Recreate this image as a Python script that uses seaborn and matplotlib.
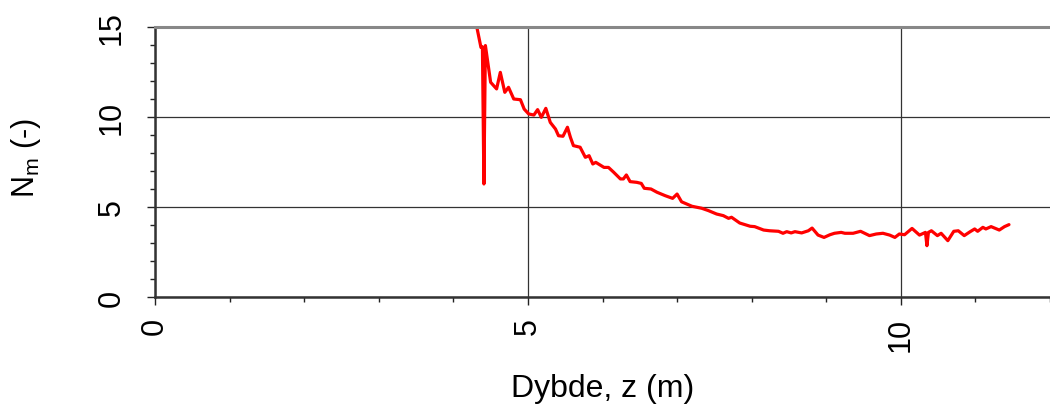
import matplotlib
matplotlib.use("Agg")
import matplotlib.pyplot as plt
from matplotlib.ticker import MultipleLocator
import seaborn as sns
import pandas as pd

depth = [4.30, 4.37, 4.39, 4.41, 4.43, 4.50, 4.58, 4.63, 4.69, 4.74, 4.81, 4.90,
         4.95, 5.01, 5.08, 5.13, 5.18, 5.24, 5.30, 5.37, 5.41, 5.47, 5.53, 5.57,
         5.61, 5.70, 5.77, 5.82, 5.87, 5.91, 6.02, 6.08, 6.15, 6.24, 6.28, 6.32,
         6.37, 6.46, 6.52, 6.56, 6.65, 6.73, 6.84, 6.94, 7.00, 7.06, 7.20, 7.33,
         7.42, 7.53, 7.62, 7.69, 7.73, 7.84, 7.98, 8.04, 8.16, 8.24, 8.36, 8.42,
         8.47, 8.53, 8.58, 8.67, 8.76, 8.81, 8.89, 8.97, 9.05, 9.11, 9.20, 9.25,
         9.36, 9.46, 9.58, 9.67, 9.76, 9.85, 9.92, 9.98, 10.05, 10.15, 10.25, 10.33,
         10.35, 10.37, 10.41, 10.49, 10.54, 10.63, 10.71, 10.77, 10.85, 10.93, 10.99,
         11.03, 11.10, 11.14, 11.21, 11.32, 11.39, 11.45]
nm = [15.3, 13.87, 13.90, 6.28, 13.97, 11.93, 11.56, 12.48, 11.37, 11.65, 11.00, 10.96,
      10.44, 10.17, 10.11, 10.41, 9.98, 10.48, 9.70, 9.33, 8.96, 8.93, 9.43, 8.87,
      8.41, 8.32, 7.76, 7.85, 7.39, 7.48, 7.20, 7.20, 6.93, 6.56, 6.56, 6.78,
      6.41, 6.37, 6.31, 6.04, 6.00, 5.82, 5.63, 5.48, 5.72, 5.29, 5.04, 4.93,
      4.80, 4.61, 4.52, 4.37, 4.43, 4.11, 3.93, 3.91, 3.72, 3.68, 3.65, 3.54,
      3.63, 3.56, 3.63, 3.56, 3.68, 3.83, 3.44, 3.31, 3.46, 3.54, 3.59, 3.54,
      3.54, 3.65, 3.41, 3.50, 3.54, 3.44, 3.31, 3.50, 3.46, 3.81, 3.44, 3.59,
      2.85, 3.59, 3.68, 3.41, 3.54, 3.13, 3.65, 3.68, 3.41, 3.63, 3.78,
      3.65, 3.87, 3.78, 3.91, 3.72, 3.91, 4.02]

x_ticks = [0, 5, 10]
y_ticks = [0, 5, 10, 15]

sns.set_theme(style="white")
plt.rcParams['font.family'] = ['Liberation Sans', 'DejaVu Sans']
plt.rcParams['text.color'] = 'black'
plt.rcParams['axes.labelcolor'] = 'black'
plt.rcParams['xtick.color'] = 'black'
plt.rcParams['ytick.color'] = 'black'

df = pd.DataFrame({"z": depth, "Nm": nm})

fig = plt.figure(figsize=(10.5, 4.1), dpi=100)
ax = fig.add_axes([155/1050, 1 - 298/410, 1 - 155/1050, (298 - 28)/410])

sns.lineplot(data=df, x="z", y="Nm", ax=ax, color="#ff0000", linewidth=2.3,
             sort=False, estimator=None)

ax.set_xlim(0, 12)
ax.set_ylim(0, 15)
ax.set_xticks(x_ticks)
ax.set_yticks(y_ticks)
ax.xaxis.set_minor_locator(MultipleLocator(1))
ax.yaxis.set_minor_locator(MultipleLocator(1))
ax.set_xticklabels([str(t) for t in x_ticks], rotation=90, fontsize=22)
ax.set_yticklabels([str(t) for t in y_ticks], rotation=90, fontsize=22, va="center")

ax.tick_params(axis="x", which="major", direction="out", length=5.5, width=1,
               color="#222222", bottom=True, pad=9)
ax.tick_params(axis="y", which="major", direction="out", length=5.5, width=1,
               color="#222222", left=True, pad=15)
ax.tick_params(axis="both", which="minor", direction="out", length=3.8, width=1,
               color="#222222", bottom=True, left=True)

ax.grid(True, which="major", color="#333333", linewidth=0.9)
ax.grid(False, which="minor")

for side in ["left", "bottom"]:
    ax.spines[side].set_color("#333333")
    ax.spines[side].set_linewidth(1.8)
ax.spines["top"].set_color("#888888")
ax.spines["top"].set_linewidth(2.2)
ax.spines["right"].set_visible(False)

ax.set_xlabel("Dybde, z (m)", fontsize=23)
ax.set_ylabel("N$_\\mathregular{m}$ (-)", fontsize=22)
ax.xaxis.set_label_coords(0.5, (298 - 374) / 270)
ax.yaxis.set_label_coords((43 - 155) / 895, 0.52)

fig.savefig("out.png", dpi=100)
